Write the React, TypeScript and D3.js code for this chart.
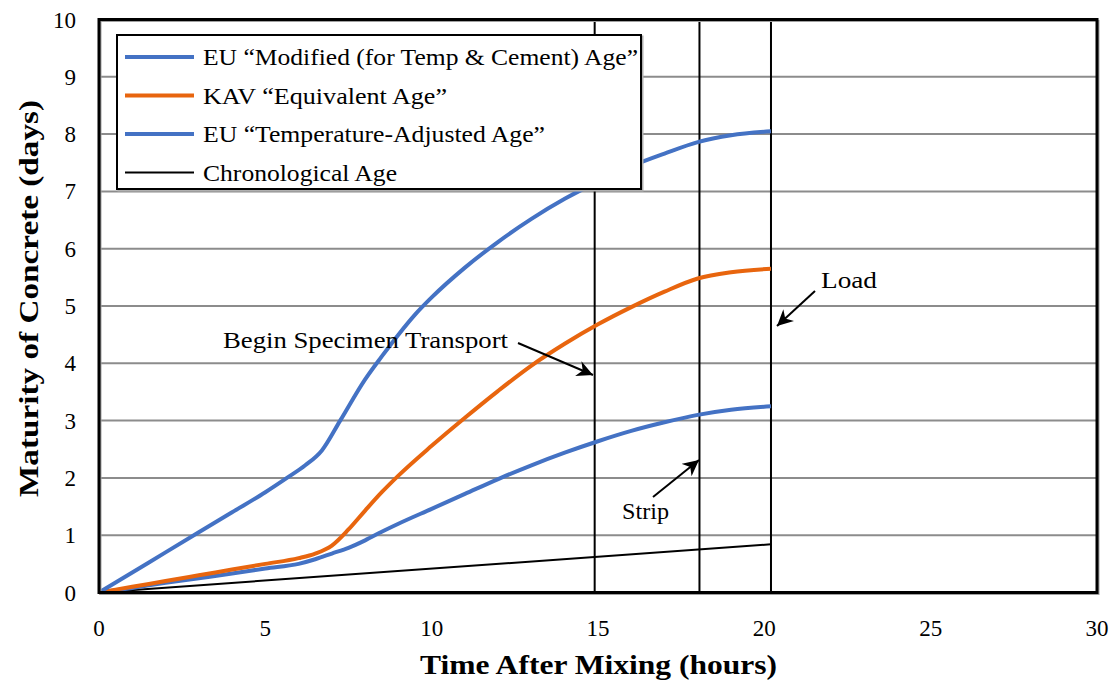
import React, { useEffect, useRef } from 'react';
import * as d3 from 'd3';

// hours after mixing -> maturity (days)
const modifiedAge: [number, number][] = [
  [0, 0], [1, 0.35], [2, 0.7], [3, 1.05], [4, 1.4], [5, 1.75], [5.65, 2.0], [6.2, 2.22],
  [6.7, 2.48], [7.25, 3.0], [8, 3.72], [8.5, 4.12], [9, 4.5], [9.5, 4.85], [10, 5.15], [11, 5.67],
  [12, 6.12], [13, 6.52], [14, 6.87], [15, 7.17], [16, 7.44], [17, 7.66], [18, 7.86], [19, 7.98], [20.2, 8.05],
];
const equivalentAge: [number, number][] = [
  [0, 0], [1, 0.1], [2, 0.2], [3, 0.3], [4, 0.4], [5, 0.5], [6, 0.6], [6.5, 0.68],
  [7, 0.82], [7.5, 1.1], [8, 1.43], [8.5, 1.75], [9, 2.04], [10, 2.56], [11, 3.05], [12, 3.52],
  [13, 3.96], [14, 4.34], [15, 4.68], [16, 4.98], [17, 5.25], [18, 5.48], [19, 5.59], [20.2, 5.65],
];
const tempAdjustedAge: [number, number][] = [
  [0, 0], [1, 0.08], [2, 0.17], [3, 0.25], [4, 0.33], [5, 0.42], [6, 0.5], [6.5, 0.58],
  [7, 0.68], [7.5, 0.78], [8, 0.91], [8.5, 1.06], [9, 1.2], [10, 1.46], [11, 1.72], [12, 1.98],
  [13, 2.22], [14, 2.44], [15, 2.64], [16, 2.82], [17, 2.97], [18, 3.1], [19, 3.19], [20.2, 3.25],
];
const chronologicalAge: [number, number][] = [[0, 0], [20.2, 0.842]];

const eventHours = [14.9, 18.05, 20.2];
const xTicks = [0, 5, 10, 15, 20, 25, 30];
const yTicks = [0, 1, 2, 3, 4, 5, 6, 7, 8, 9, 10];

const legendLabels = [
  'EU \u201CModified (for Temp & Cement) Age\u201D',
  'KAV \u201CEquivalent Age\u201D',
  'EU \u201CTemperature-Adjusted Age\u201D',
  'Chronological Age',
];
const legendWidths = [435, 244, 342, 194];

const BLUE = '#4472C4';
const ORANGE = '#E8650E';
const FONT = '"Liberation Serif", "Times New Roman", serif';

export default function App() {
  const ref = useRef<SVGSVGElement>(null);

  useEffect(() => {
    const svg = d3.select(ref.current);
    svg.selectAll('*').remove();

    const left = 99, right = 1097, top = 19.5, bottom = 592.5;
    const x = d3.scaleLinear().domain([0, 30]).range([left, right]);
    const y = d3.scaleLinear().domain([0, 10]).range([bottom, top]);

    const defs = svg.append('defs');
    defs.append('marker')
      .attr('id', 'arrow')
      .attr('viewBox', '0 0 10 10')
      .attr('refX', 10).attr('refY', 5)
      .attr('markerWidth', 8).attr('markerHeight', 8)
      .attr('markerUnits', 'strokeWidth')
      .attr('orient', 'auto')
      .append('path')
      .attr('d', 'M0,0 L10,5 L0,10 L3,5 Z')
      .attr('fill', '#000');

    // gridlines
    svg.append('g')
      .selectAll('line')
      .data(yTicks.slice(1, -1))
      .join('line')
      .attr('x1', left).attr('x2', right)
      .attr('y1', d => y(d)).attr('y2', d => y(d))
      .attr('stroke', '#8c8c8c').attr('stroke-width', 2);

    // event markers
    svg.append('g')
      .selectAll('line')
      .data(eventHours)
      .join('line')
      .attr('x1', d => x(d)).attr('x2', d => x(d))
      .attr('y1', bottom).attr('y2', top)
      .attr('stroke', '#000').attr('stroke-width', 2);

    const line = d3.line<[number, number]>()
      .x(d => x(d[0]))
      .y(d => y(d[1]))
      .curve(d3.curveMonotoneX);

    svg.append('path').datum(chronologicalAge)
      .attr('fill', 'none').attr('stroke', '#000').attr('stroke-width', 2).attr('d', line);
    svg.append('path').datum(tempAdjustedAge)
      .attr('fill', 'none').attr('stroke', BLUE).attr('stroke-width', 4).attr('d', line);
    svg.append('path').datum(equivalentAge)
      .attr('fill', 'none').attr('stroke', ORANGE).attr('stroke-width', 4).attr('d', line);
    svg.append('path').datum(modifiedAge)
      .attr('fill', 'none').attr('stroke', BLUE).attr('stroke-width', 4).attr('d', line);

    // frame with a little shadow
    svg.append('rect')
      .attr('x', left + 1.5).attr('y', top + 1.5)
      .attr('width', right - left).attr('height', bottom - top)
      .attr('fill', 'none').attr('stroke', '#a0a0a0').attr('stroke-width', 2);
    svg.append('rect')
      .attr('x', left).attr('y', top)
      .attr('width', right - left).attr('height', bottom - top)
      .attr('fill', 'none').attr('stroke', '#000').attr('stroke-width', 3);

    // axes labels
    svg.append('g')
      .selectAll('text')
      .data(xTicks)
      .join('text')
      .attr('x', d => x(d)).attr('y', 636)
      .attr('text-anchor', 'middle')
      .attr('font-family', FONT).attr('font-size', 23)
      .text(d => d);

    svg.append('g')
      .selectAll('text')
      .data(yTicks)
      .join('text')
      .attr('x', 76).attr('y', d => y(d) + 8)
      .attr('text-anchor', 'end')
      .attr('font-family', FONT).attr('font-size', 23)
      .text(d => d);

    svg.append('text')
      .attr('x', 420).attr('y', 674)
      .attr('textLength', 357).attr('lengthAdjust', 'spacingAndGlyphs')
      .attr('font-family', FONT).attr('font-size', 27).attr('font-weight', 'bold')
      .text('Time After Mixing (hours)');

    svg.append('text')
      .attr('transform', `translate(38, 497) rotate(-90)`)
      .attr('textLength', 397).attr('lengthAdjust', 'spacingAndGlyphs')
      .attr('font-family', FONT).attr('font-size', 27).attr('font-weight', 'bold')
      .text('Maturity of Concrete (days)');

    // legend
    const lg = svg.append('g');
    lg.append('rect')
      .attr('x', 118.5).attr('y', 36.5).attr('width', 524).attr('height', 154)
      .attr('fill', 'none').attr('stroke', '#b0b0b0').attr('stroke-width', 2);
    lg.append('rect')
      .attr('x', 117).attr('y', 35).attr('width', 524).attr('height', 154)
      .attr('fill', '#fff').attr('stroke', '#000').attr('stroke-width', 2);
    const colors = [BLUE, ORANGE, BLUE, '#000'];
    const widths = [4, 4, 4, 2];
    legendLabels.forEach((label, i) => {
      const ly = 57 + i * 38.5;
      lg.append('line')
        .attr('x1', 125).attr('x2', 194).attr('y1', ly).attr('y2', ly)
        .attr('stroke', colors[i]).attr('stroke-width', widths[i]);
      lg.append('text')
        .attr('x', 203).attr('y', ly + 8)
        .attr('textLength', legendWidths[i]).attr('lengthAdjust', 'spacingAndGlyphs')
        .attr('font-family', FONT).attr('font-size', 23)
        .text(label);
    });

    // annotations
    const notes = [
      { text: 'Begin Specimen Transport', tx: 223, ty: 348, w: 285, from: [518, 343], to: [593, 375] },
      { text: 'Strip', tx: 622, ty: 519, w: 47, from: [653, 497], to: [699, 460] },
      { text: 'Load', tx: 821, ty: 288, w: 56, from: [815, 291], to: [777, 326] },
    ];
    notes.forEach(n => {
      svg.append('text')
        .attr('x', n.tx).attr('y', n.ty)
        .attr('textLength', n.w).attr('lengthAdjust', 'spacingAndGlyphs')
        .attr('font-family', FONT).attr('font-size', 23)
        .text(n.text);
      svg.append('line')
        .attr('x1', n.from[0]).attr('y1', n.from[1])
        .attr('x2', n.to[0]).attr('y2', n.to[1])
        .attr('stroke', '#000').attr('stroke-width', 2)
        .attr('marker-end', 'url(#arrow)');
    });
  }, []);

  return (
    <svg
      ref={ref}
      width={1116}
      height={683}
      style={{ position: 'absolute', left: 0, top: 0, background: '#fff' }}
    />
  );
}
